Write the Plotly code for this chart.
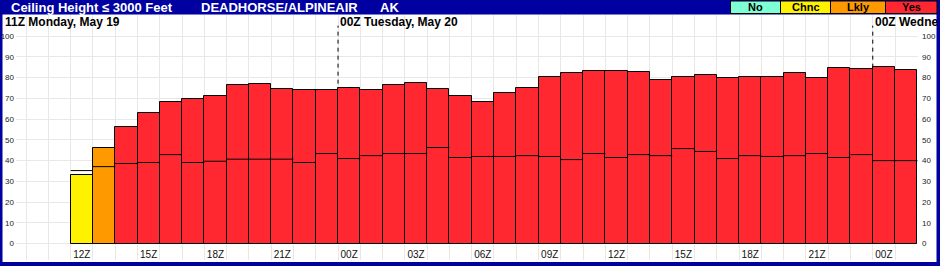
import plotly.graph_objects as go

# ---------------- data ----------------
hours = ["12Z", "13Z", "14Z", "15Z", "16Z", "17Z", "18Z", "19Z", "20Z", "21Z", "22Z", "23Z",
         "00Z", "01Z", "02Z", "03Z", "04Z", "05Z", "06Z", "07Z", "08Z", "09Z", "10Z", "11Z",
         "12Z", "13Z", "14Z", "15Z", "16Z", "17Z", "18Z", "19Z", "20Z", "21Z", "22Z", "23Z",
         "00Z", "01Z"]
bar_values = [33, 46, 56, 62.7, 68, 69.5, 70.9, 76.4, 76.8, 74.3, 73.8, 73.8,
              74.8, 73.8, 76.6, 77.2, 74.3, 70.9, 68, 72.4, 75.2, 80.5, 82, 83,
              83, 82.5, 78.6, 80.5, 81, 79.6, 80.1, 80.1, 82, 79.6, 84.4, 83.9,
              84.9, 83.5]
line_values = [35.2, 37.1, 38.6, 39.1, 42.9, 39.1, 39.7, 40.7, 40.7, 40.7, 39.1, 43.4,
               41.0, 42.4, 43.4, 43.4, 46.3, 41.5, 42.0, 42.0, 42.4, 42.0, 40.5, 43.4,
               41.5, 42.9, 42.4, 45.8, 44.4, 41.0, 42.4, 42.0, 42.4, 43.4, 41.5, 42.9,
               40.0, 40.0]
categories = ["Chnc", "Lkly"] + ["Yes"] * 36
legend_labels = ["No", "Chnc", "Lkly", "Yes"]
day_labels = ["11Z Monday, May 19", "00Z Tuesday, May 20", "00Z Wedne"]
title_parts = ["Ceiling Height \u2264 3000 Feet", "DEADHORSE/ALPINEAIR", "AK"]
y_ticks = list(range(0, 101, 10))

# ---------------- style ----------------
colors = {"No": "#7FFFD4", "Chnc": "#FFF200", "Lkly": "#FF9900", "Yes": "#FF2830"}
FRAME = "#0000A0"
GRID = "#E8E8E8"
FONT = "Liberation Sans, Arial, sans-serif"

W, H = 940, 266
L, R, T, B = 16, 22, 15, 6
PW, PH = W - L - R, H - T - B


def pxx(p):
    return (p - L) / PW


def pxy(p):
    return (H - B - p) / PH


n = len(hours)
xs = list(range(n))

fig = go.Figure()

fig.add_trace(go.Bar(
    x=xs, y=bar_values, width=1.0,
    marker=dict(color=[colors[c] for c in categories], line=dict(color="black", width=1)),
    hoverinfo="skip", showlegend=False,
))

lx, ly = [], []
for i, v in zip(xs, line_values):
    lx += [i - 0.5, i + 0.5, None]
    ly += [v, v, None]
fig.add_trace(go.Scatter(
    x=lx, y=ly, mode="lines", line=dict(color="black", width=1),
    yaxis="y2", hoverinfo="skip", showlegend=False,
))

tick_idx = [i for i, h in enumerate(hours) if int(h[:2]) % 3 == 0]
edges = [i - 0.5 for i in range(-2, n + 1)]

fig.update_layout(
    width=W, height=H,
    margin=dict(l=L, r=R, t=T, b=B, pad=0, autoexpand=False),
    paper_bgcolor="white", plot_bgcolor="white",
    font=dict(family=FONT, color="black"),
    bargap=0,
    xaxis=dict(
        range=[-2.953, 37.53], showgrid=False, zeroline=False, showline=False, automargin=False,
        tickmode="array", tickvals=tick_idx, ticktext=[hours[i] for i in tick_idx],
        ticks="", ticklabelposition="inside", ticklabelstandoff=-3,
        tickfont=dict(size=10, color="#111"),
        minor=dict(tickmode="array", tickvals=edges, showgrid=True, gridcolor=GRID, gridwidth=1, ticks=""),
        fixedrange=True,
    ),
    yaxis=dict(
        range=[-7.86, 110.13], tickmode="array", tickvals=y_ticks, automargin=False,
        showgrid=True, gridcolor=GRID, gridwidth=1, zeroline=False, showline=False,
        ticks="", tickfont=dict(size=8, color="#222"), ticklabelstandoff=1,
    ),
    yaxis2=dict(
        range=[-7.86, 110.13], overlaying="y", side="right", tickmode="array", tickvals=y_ticks,
        showgrid=False, zeroline=False, showline=False, automargin=False,
        ticks="", tickfont=dict(size=8, color="#222"), ticklabelstandoff=3,
    ),
)

shapes = []
# day boundary dashed lines
for i, h in enumerate(hours):
    if h == "00Z":
        shapes.append(dict(type="line", xref="x", yref="y", x0=i - 0.5, x1=i - 0.5, y0=0, y1=105,
                           line=dict(color="black", width=1, dash="4px,4px"), layer="between"))
# frame
shapes += [
    dict(type="rect", xref="paper", yref="paper", x0=pxx(0), x1=pxx(W), y0=pxy(14.5), y1=pxy(0),
         fillcolor=FRAME, line=dict(width=0), layer="above"),
    dict(type="rect", xref="paper", yref="paper", x0=pxx(0), x1=pxx(2.5), y0=pxy(H), y1=pxy(0),
         fillcolor=FRAME, line=dict(width=0), layer="above"),
    dict(type="rect", xref="paper", yref="paper", x0=pxx(936.5), x1=pxx(W), y0=pxy(H), y1=pxy(0),
         fillcolor=FRAME, line=dict(width=0), layer="above"),
    dict(type="rect", xref="paper", yref="paper", x0=pxx(0), x1=pxx(W), y0=pxy(H), y1=pxy(262),
         fillcolor=FRAME, line=dict(width=0), layer="above"),
]
# legend boxes
box_edges = [730.5, 780.5, 830.5, 885.5, 937]
annotations = []
for k, lab in enumerate(legend_labels):
    x0, x1 = box_edges[k], box_edges[k + 1]
    shapes.append(dict(type="rect", xref="paper", yref="paper", x0=pxx(x0), x1=pxx(x1),
                       y0=pxy(13.5), y1=pxy(1), fillcolor=colors[lab],
                       line=dict(color="black", width=1), layer="above"))
    annotations.append(dict(xref="paper", yref="paper", x=pxx((x0 + x1) / 2), y=pxy(7.3),
                            text=f"<b>{lab}</b>", showarrow=False, xanchor="center", yanchor="middle",
                            font=dict(size=11, color="black", family=FONT), borderpad=0))

# title
for txt, p in zip(title_parts, [10, 200, 379]):
    annotations.append(dict(xref="paper", yref="paper", x=pxx(p), y=pxy(7.3), text=f"<b>{txt}</b>",
                            showarrow=False, xanchor="left", yanchor="middle",
                            font=dict(size=13, color="white", family=FONT), borderpad=0))

# day labels
bound = [i - 0.5 for i, h in enumerate(hours) if h == "00Z"]
annotations.append(dict(xref="paper", yref="paper", x=pxx(4), y=pxy(22), text=f"<b>{day_labels[0]}</b>",
                        showarrow=False, xanchor="left", yanchor="middle",
                        font=dict(size=12, color="black", family=FONT), borderpad=0))
for b, lab in zip(bound, day_labels[1:]):
    annotations.append(dict(xref="x", yref="paper", x=b, xshift=1, y=pxy(22), text=f"<b>{lab}</b>",
                            showarrow=False, xanchor="left", yanchor="middle",
                            font=dict(size=12, color="black", family=FONT), borderpad=0))

fig.update_layout(shapes=shapes, annotations=annotations)

fig.write_html("out.html", config={"displayModeBar": False})
